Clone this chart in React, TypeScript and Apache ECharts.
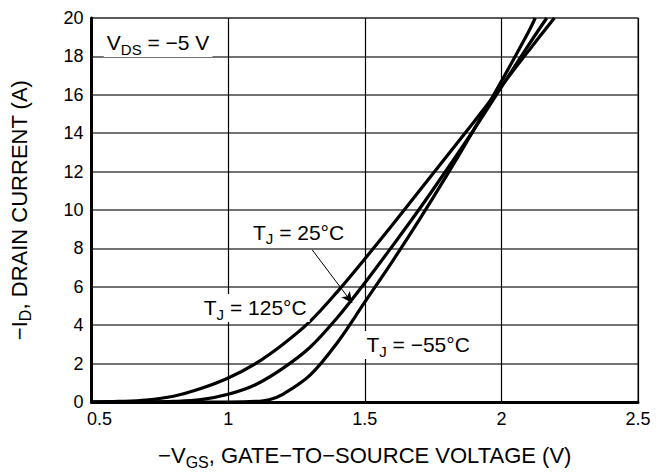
import React, { useEffect, useRef } from "react";
import * as echarts from "echarts";

const xTicks = [0.5, 1, 1.5, 2, 2.5];
const yTicks = [0, 2, 4, 6, 8, 10, 12, 14, 16, 18, 20];

const V125 = [0.5, 0.6, 0.7, 0.8, 0.9, 1.0, 1.1, 1.2, 1.3, 1.4, 1.5, 1.6, 1.7, 1.8, 1.9, 2.0, 2.1, 2.194];
const I125 = [0, 0.03, 0.1, 0.3, 0.7, 1.25, 2.0, 3.0, 4.2, 5.75, 7.45, 9.2, 11.0, 12.8, 14.6, 16.45, 18.3, 20];

const V25 = [0.5, 0.7, 0.8, 0.9, 1.0, 1.1, 1.2, 1.3, 1.4, 1.5, 1.6, 1.7, 1.8, 1.9, 2.0, 2.1, 2.166];
const I25 = [0, 0.01, 0.03, 0.12, 0.4, 0.9, 1.75, 2.85, 4.4, 6.2, 8.1, 10.05, 12.1, 14.2, 16.4, 18.6, 20];

const Vm55 = [0.5, 1.0, 1.1, 1.15, 1.2, 1.3, 1.4, 1.5, 1.6, 1.7, 1.8, 1.9, 2.0, 2.1, 2.124];
const Im55 = [0, 0, 0.03, 0.12, 0.4, 1.4, 3.1, 5.2, 7.3, 9.5, 11.8, 14.2, 16.7, 19.3, 20];

const labelVds = { x: 0.545, y: 18.7 };
const label25 = { x: 1.08, y: 8.85 };
const label125 = { x: 0.9, y: 4.9 };
const labelM55 = { x: 1.495, y: 2.97 };
const arrowFrom = [1.308, 7.92];
const arrowTo = [1.454, 5.16];

const FONT = "Liberation Sans, Arial, Helvetica, sans-serif";

const zip = (xs: number[], ys: number[]) => xs.map((x, i) => [x, ys[i]]);

const makeRich = (size: number, sub: number, lh: number) => ({
  m: { fontSize: size, fontFamily: FONT, color: "#000", lineHeight: lh, verticalAlign: "middle" },
  s: { fontSize: sub, fontFamily: FONT, color: "#000", lineHeight: sub, verticalAlign: "bottom" },
});

const labelRich = makeRich(21, 15, 28);
const nameRich = makeRich(22, 16, 29);

const boxLabel = (pt: { x: number; y: number }, text: string) => ({
  coord: [pt.x, pt.y],
  symbol: "circle",
  symbolSize: 0,
  label: {
    show: true,
    position: "right",
    distance: 0,
    formatter: text,
    backgroundColor: "#fff",
    padding: [0, 3, 0, 3],
    rich: labelRich,
  },
});

export default function App() {
  const ref = useRef<HTMLDivElement>(null);
  useEffect(() => {
    if (!ref.current) return;
    const chart = echarts.init(ref.current, undefined, { renderer: "svg" });
    const lineStyle = { color: "#000", width: 3.2 };
    chart.setOption({
      animation: false,
      backgroundColor: "#fff",
      grid: {
        left: 90,
        right: 27,
        top: 18,
        bottom: 74,
        show: true,
        borderColor: "#444",
        borderWidth: 1.2,
      },
      xAxis: {
        type: "value",
        min: 0.5,
        max: 2.5,
        interval: 0.5,
        axisLine: { show: true, onZero: false, lineStyle: { color: "#000", width: 3 } },
        axisTick: { show: false },
        splitLine: { show: true, lineStyle: { color: "#000", width: 1.2 } },
        axisLabel: {
          fontSize: 18,
          fontFamily: FONT,
          color: "#000",
          margin: 8,
          formatter: (v: number) =>
            v === xTicks[0] ? "{first|" + v + "}" : xTicks.includes(v) ? String(v) : "",
          rich: {
            first: { fontSize: 18, fontFamily: FONT, color: "#000", padding: [0, 0, 0, 16] },
          },
        },
        name: "{m|−V}{s|GS}{m|, GATE−TO−SOURCE VOLTAGE (V)}",
        nameLocation: "middle",
        nameGap: 39,
        nameTextStyle: { rich: nameRich },
      },
      yAxis: {
        type: "value",
        min: 0,
        max: 20,
        interval: 2,
        axisLine: { show: true, onZero: false, lineStyle: { color: "#000", width: 3 } },
        axisTick: { show: false },
        splitLine: { show: true, lineStyle: { color: "#444", width: 1.5 } },
        axisLabel: {
          fontSize: 18,
          fontFamily: FONT,
          color: "#000",
          margin: 8,
          formatter: (v: number) => (yTicks.includes(v) ? String(v) : ""),
        },
        name: "{m|−I}{s|D}{m|, DRAIN CURRENT (A)}",
        nameLocation: "middle",
        nameGap: 58,
        nameRotate: 90,
        nameTextStyle: { rich: nameRich },
      },
      series: [
        {
          name: "125",
          type: "line",
          data: zip(V125, I125),
          smooth: 0.35,
          showSymbol: false,
          lineStyle,
          z: 3,
          markPoint: {
            data: [
              boxLabel(labelVds, "{m|V}{s|DS}{m| = −5 V}"),
              boxLabel(label125, "{m|T}{s|J}{m| = 125°C}"),
            ],
          },
        },
        {
          name: "25",
          type: "line",
          data: zip(V25, I25),
          smooth: 0.35,
          showSymbol: false,
          lineStyle,
          z: 3,
          markPoint: {
            data: [boxLabel(label25, "{m|T}{s|J}{m| = 25°C}")],
          },
          markLine: {
            silent: true,
            symbol: ["none", "arrow"],
            symbolSize: [8, 11],
            label: { show: false },
            lineStyle: { color: "#000", width: 1, type: "solid" },
            data: [[{ coord: arrowFrom }, { coord: arrowTo }]],
          },
        },
        {
          name: "-55",
          type: "line",
          data: zip(Vm55, Im55),
          smooth: 0.35,
          showSymbol: false,
          lineStyle,
          z: 3,
          markPoint: {
            data: [boxLabel(labelM55, "{m|T}{s|J}{m| = −55°C}")],
          },
        },
      ],
    });
    return () => chart.dispose();
  }, []);
  return <div ref={ref} style={{ width: 665, height: 476, position: "absolute", left: 0, top: 0 }} />;
}
